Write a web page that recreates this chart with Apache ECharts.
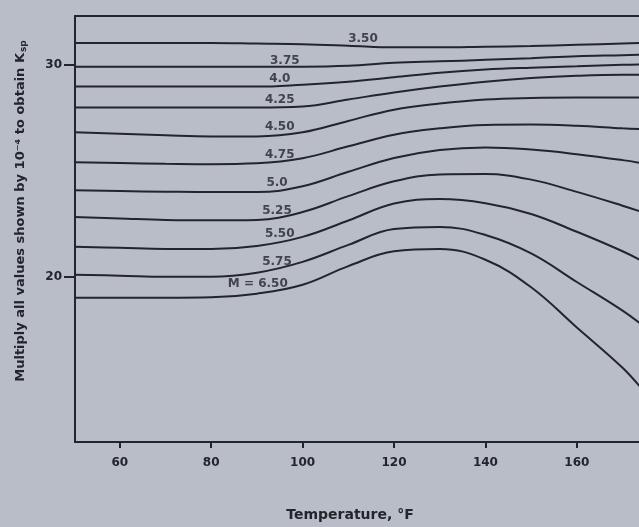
<!DOCTYPE html>
<html>
<head>
<meta charset="utf-8">
<title>Ksp vs temperature</title>
<script src="https://cdn.jsdelivr.net/npm/echarts@6/dist/echarts.min.js"></script>
<style>
  html, body { margin: 0; padding: 0; background: #b9bdc8; }
  #chart { width: 639px; height: 527px; }
</style>
</head>
<body>
<div id="chart"></div>
<script>
// temperatures, deg F
const temps = [50, 60, 70, 80, 90, 100, 110, 120, 130, 140, 150, 160, 170, 175];

// Ksp x 10^4 for each M curve
const m350 = [31.03, 31.03, 31.03, 31.03, 31.0, 30.97, 30.9, 30.82, 30.82, 30.85, 30.88, 30.94, 31.0, 31.03];
const m375 = [29.91, 29.91, 29.91, 29.91, 29.91, 29.91, 29.95, 30.09, 30.16, 30.23, 30.31, 30.4, 30.45, 30.48];
const m400 = [28.97, 28.97, 28.97, 28.97, 28.97, 29.06, 29.2, 29.41, 29.62, 29.77, 29.86, 29.93, 30.0, 30.02];
const m425 = [27.98, 27.98, 27.98, 27.98, 27.98, 28.03, 28.36, 28.69, 28.97, 29.2, 29.37, 29.48, 29.53, 29.53];
const m450 = [26.81, 26.74, 26.67, 26.62, 26.62, 26.81, 27.35, 27.88, 28.17, 28.36, 28.43, 28.45, 28.45, 28.45];
const m475 = [25.4, 25.36, 25.33, 25.31, 25.35, 25.59, 26.15, 26.7, 27.0, 27.16, 27.18, 27.12, 27.0, 26.95];
const m500 = [24.08, 24.04, 24.01, 23.99, 23.99, 24.27, 24.95, 25.6, 25.98, 26.1, 26.0, 25.78, 25.5, 25.33];
const m525 = [22.82, 22.75, 22.68, 22.66, 22.68, 23.05, 23.8, 24.5, 24.82, 24.84, 24.58, 24.0, 23.35, 23.0];
const m550 = [21.41, 21.36, 21.31, 21.31, 21.45, 21.88, 22.65, 23.45, 23.66, 23.47, 22.96, 22.12, 21.2, 20.66];
const m575 = [20.09, 20.05, 20.0, 20.0, 20.19, 20.7, 21.5, 22.25, 22.35, 21.97, 21.1, 19.75, 18.4, 17.6];
const m650 = [19.01, 19.01, 19.01, 19.03, 19.2, 19.62, 20.5, 21.2, 21.31, 20.8, 19.5, 17.6, 15.7, 14.5];

const curves = [m350, m375, m400, m425, m450, m475, m500, m525, m550, m575, m650];
const curveNames = ['3.50', '3.75', '4.0', '4.25', '4.50', '4.75', '5.0', '5.25', '5.50', '5.75', '6.50'];

// where each curve label sits (data coords)
const labelText = ['3.50', '3.75', '4.0', '4.25', '4.50', '4.75', '5.0', '5.25', '5.50', '5.75', 'M = 6.50'];
const labelX = [113.2, 96.1, 95.0, 95.0, 95.0, 95.0, 94.4, 94.4, 95.0, 94.4, 90.2];
const labelY = [31.22, 30.19, 29.34, 28.36, 27.09, 25.77, 24.41, 23.10, 22.02, 20.70, 19.67];

const xTicks = [60, 80, 100, 120, 140, 160];
const yTicks = [20, 30];

const ink = '#23252c';
const font = 'DejaVu Sans';

const chart = echarts.init(document.getElementById('chart'), null, { renderer: 'canvas' });

const lineSeries = curves.map((vals, i) => ({
  name: 'M = ' + curveNames[i],
  type: 'line',
  data: temps.map((t, j) => [t, vals[j]]),
  smooth: 0.4,
  symbol: 'none',
  lineStyle: { color: ink, width: 2 },
  z: 3
}));

const labelSeries = {
  type: 'scatter',
  data: labelText.map((txt, i) => ({ name: txt, value: [labelX[i], labelY[i]] })),
  symbolSize: 1,
  itemStyle: { color: 'rgba(0,0,0,0)' },
  label: {
    show: true,
    position: 'inside',
    formatter: p => p.name,
    color: ink,
    fontFamily: font,
    fontWeight: 'bold',
    fontSize: 12
  },
  z: 4
};

const option = {
  animation: false,
  backgroundColor: '#b9bdc8',
  grid: { left: 75, right: 0, top: 16, bottom: 83 },
  xAxis: [
    {
      type: 'value',
      min: 50.2,
      max: 173.6,
      position: 'bottom',
      name: 'Temperature, °F',
      nameLocation: 'middle',
      nameGap: 66,
      nameTextStyle: { color: ink, fontFamily: font, fontWeight: 'bold', fontSize: 14, padding: [0, 14, 0, 0] },
      axisLine: { show: true, lineStyle: { color: ink, width: 2 } },
      axisTick: { show: true, customValues: xTicks, length: 6, lineStyle: { color: ink, width: 2 } },
      axisLabel: { customValues: xTicks, color: ink, fontFamily: font, fontWeight: 'bold', fontSize: 12, margin: 15 },
      splitLine: { show: false }
    },
    {
      type: 'value',
      min: 50.2,
      max: 173.6,
      position: 'top',
      axisLine: { show: true, lineStyle: { color: ink, width: 2 } },
      axisTick: { show: false },
      axisLabel: { show: false },
      splitLine: { show: false }
    }
  ],
  yAxis: {
    type: 'value',
    min: 12.2,
    max: 32.3,
    name: 'Multiply all values shown by 10⁻⁴ to obtain K{sub|sp}',
    nameLocation: 'middle',
    nameGap: 47,
    nameTextStyle: {
      color: ink,
      fontFamily: font,
      fontWeight: 'bold',
      fontSize: 13,
      padding: [0, 0, 0, 36],
      rich: { sub: { fontFamily: font, fontWeight: 'bold', fontSize: 9, color: ink, padding: [6, 0, 0, 1] } }
    },
    axisLine: { show: true, lineStyle: { color: ink, width: 2 } },
    axisTick: { show: true, customValues: yTicks, length: 11, lineStyle: { color: ink, width: 2 } },
    axisLabel: { customValues: yTicks, color: ink, fontFamily: font, fontWeight: 'bold', fontSize: 12, margin: 13 },
    splitLine: { show: false }
  },
  series: [...lineSeries, labelSeries]
};

chart.setOption(option);
</script>
</body>
</html>
